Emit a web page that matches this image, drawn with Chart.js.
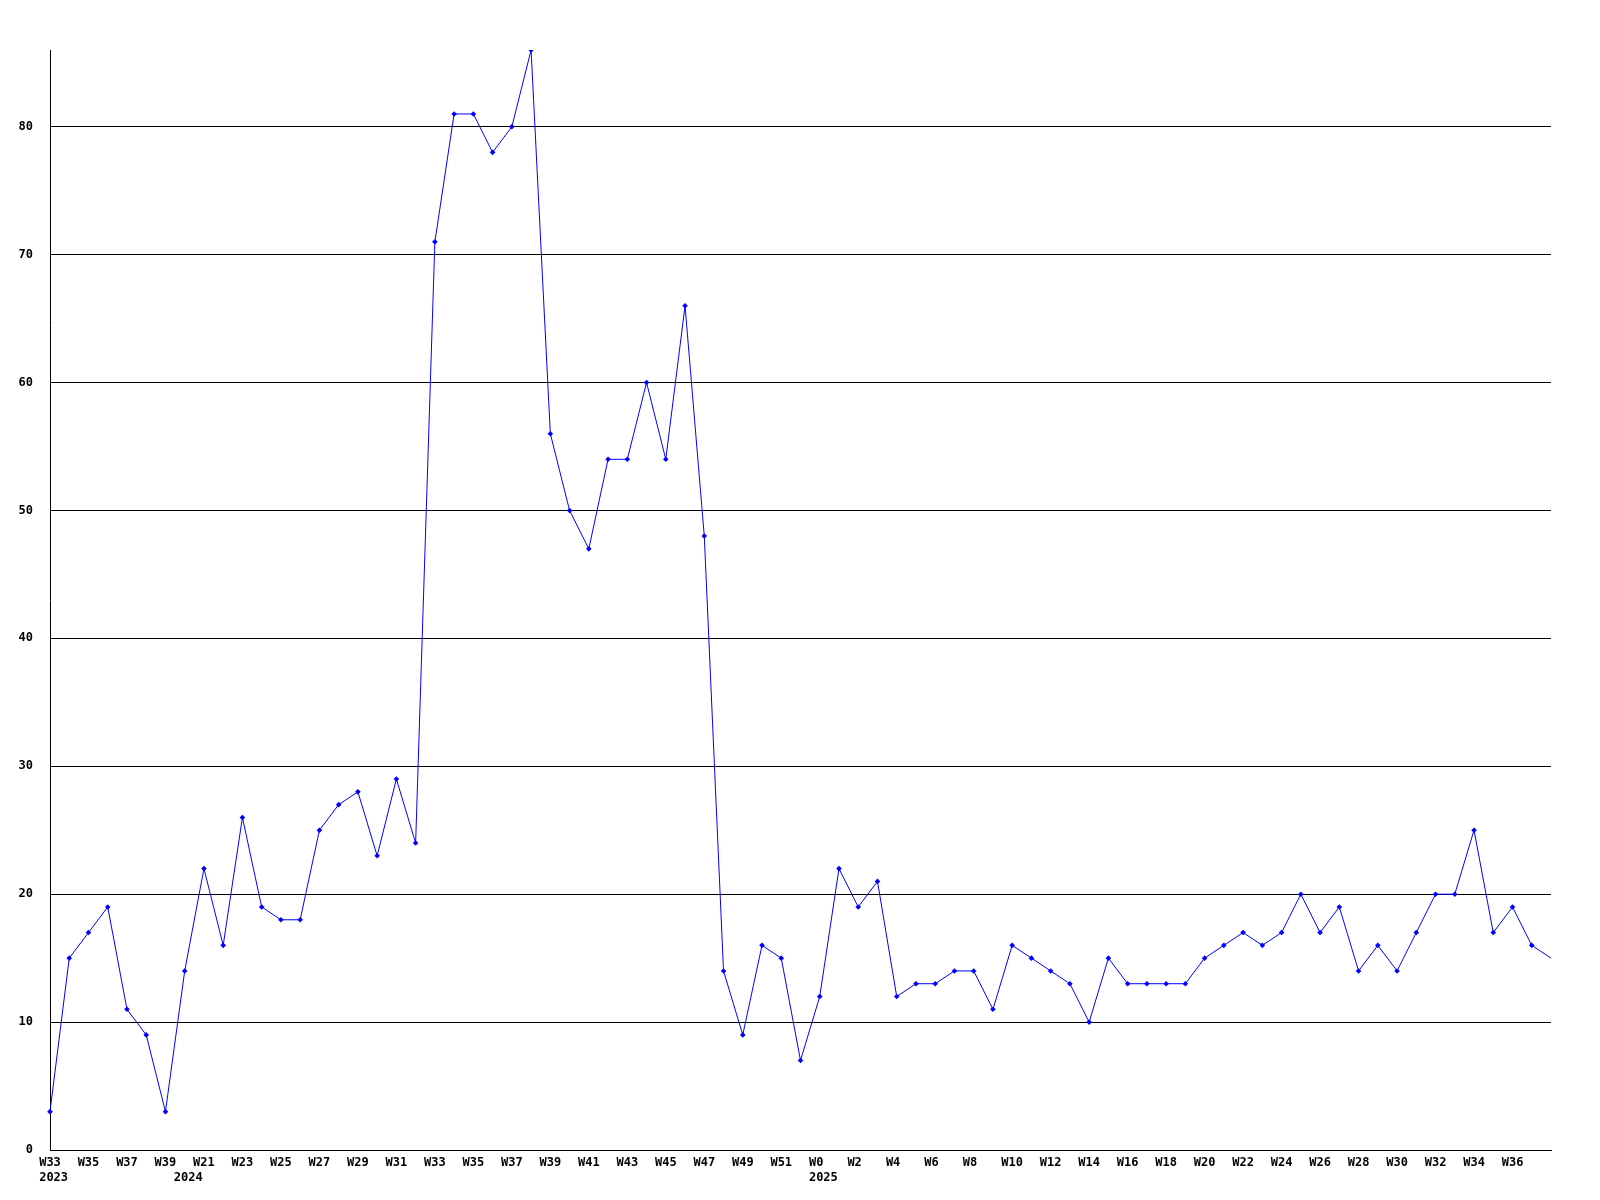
<!DOCTYPE html>
<html>
<head>
<meta charset="utf-8">
<script src="https://cdn.jsdelivr.net/npm/chart.js@4.4.1/dist/chart.umd.min.js"></script>
<style>
  html, body { margin: 0; padding: 0; background: #ffffff; }
  #wrap { width: 1600px; height: 1200px; }
</style>
</head>
<body>
<div id="wrap"><canvas id="c" width="1600" height="1200"></canvas></div>
<script>
const weekLabels = [
  'W33','W34','W35','W36','W37','W38','W39',
  'W20','W21','W22','W23','W24','W25','W26','W27','W28','W29','W30','W31','W32','W33','W34','W35','W36','W37','W38','W39','W40','W41','W42','W43','W44','W45','W46','W47','W48','W49','W50','W51','W52',
  'W0','W1','W2','W3','W4','W5','W6','W7','W8','W9','W10','W11','W12','W13','W14','W15','W16','W17','W18','W19','W20','W21','W22','W23','W24','W25','W26','W27','W28','W29','W30','W31','W32','W33','W34','W35','W36','W37','W38'
];
const yearStartIndex = [0, 7, 40];
const yearNames = ['2023', '2024', '2025'];
const counts = [
  3, 15, 17, 19, 11, 9, 3,
  14, 22, 16, 26, 19, 18, 18, 25, 27, 28, 23, 29, 24, 71, 81, 81, 78, 80, 86, 56, 50, 47, 54, 54, 60, 54, 66, 48, 14, 9, 16, 15, 7,
  12, 22, 19, 21, 12, 13, 13, 14, 14, 11, 16, 15, 14, 13, 10, 15, 13, 13, 13, 13, 15, 16, 17, 16, 17, 20, 17, 19, 14, 16, 14, 17, 20, 20, 25, 17, 19, 16, 15
];
const yTicks = [0, 10, 20, 30, 40, 50, 60, 70, 80];
const yMax = 86;

const FONT = { family: '"DejaVu Sans Mono", "Liberation Mono", monospace', size: 12, weight: 'bold', lineHeight: 1.25 };

new Chart(document.getElementById('c'), {
  type: 'line',
  data: {
    labels: weekLabels,
    datasets: [{
      data: counts,
      borderColor: '#0000ff',
      backgroundColor: '#0000ff',
      borderWidth: 1,
      tension: 0,
      fill: false,
      pointStyle: 'rectRot',
      pointRadius: counts.map((v, i) => i === counts.length - 1 ? 0 : 2.8),
      pointBorderWidth: 0,
      pointBackgroundColor: '#0000ff'
    }]
  },
  options: {
    responsive: false,
    animation: false,
    devicePixelRatio: 1,
    layout: { padding: { left: 0, right: 49, top: 50, bottom: 0 } },
    plugins: { legend: { display: false }, tooltip: { enabled: false } },
    scales: {
      x: {
        offset: false,
        grid: { display: false, drawTicks: false },
        border: { display: true, color: '#000000', width: 1 },
        afterFit: (axis) => { axis.height = 50; },
        ticks: {
          autoSkip: false,
          maxRotation: 0,
          minRotation: 0,
          padding: 5,
          color: '#000000',
          font: FONT,
          callback: function (value, index) {
            const yi = yearStartIndex.indexOf(index);
            const showWeek = index % 2 === 0 && index !== weekLabels.length - 1;
            const w = showWeek ? weekLabels[index].padEnd(3, ' ') : '';
            if (yi >= 0) return [w, ' ' + yearNames[yi]];
            return w;
          }
        }
      },
      y: {
        min: 0,
        max: yMax,
        afterFit: (axis) => { axis.width = 50; },
        afterBuildTicks: (axis) => { axis.ticks = yTicks.map(v => ({ value: v })); },
        grid: { color: '#000000', lineWidth: 1, drawTicks: false },
        border: { display: true, color: '#000000', width: 1 },
        ticks: {
          padding: 17,
          color: '#000000',
          font: FONT,
          callback: (v) => String(v)
        }
      }
    }
  }
});
</script>
</body>
</html>
